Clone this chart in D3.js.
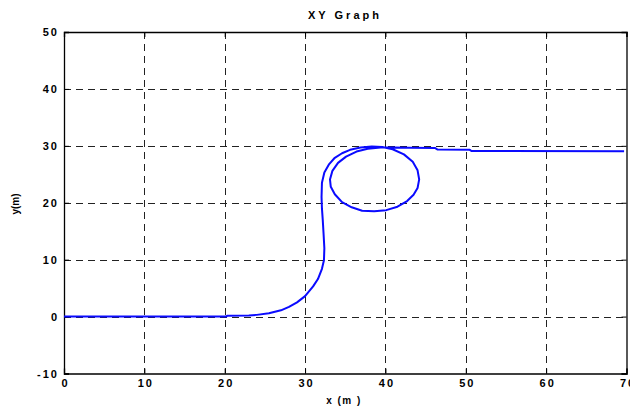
<!DOCTYPE html>
<html>
<head>
<meta charset="utf-8">
<script src="https://cdn.jsdelivr.net/npm/d3@7"></script>
<style>
  html, body { margin: 0; padding: 0; background: #fff; }
  svg { display: block; }
  text { font-family: "Liberation Sans", Arial, sans-serif; fill: #000; }
</style>
</head>
<body>
<script>
// Trajectory samples (metres)
const pathX = [0, 10, 20.2, 20.3, 23, 24, 25.5, 27, 28, 29, 30, 31, 31.6, 32.1, 32.35, 32.4, 32.3, 32.2, 32.1, 32.05,
  32.1, 32.4, 33.0, 33.7, 34.6, 35.6, 36.9, 38.3, 39.6, 40.9, 42.3, 43.4, 44.0, 44.2, 44.0, 43.5, 42.7, 41.5, 40.1,
  38.6, 37.1, 35.8, 34.6, 33.7, 33.2, 33.1, 33.4, 34.1, 35.1, 36.4, 37.8, 39.4, 41, 43, 46.2, 46.5, 50.5, 50.7, 69.7];
const pathY = [0, 0, 0, 0.15, 0.2, 0.3, 0.6, 1.1, 1.7, 2.5, 3.6, 5.3, 6.6, 8.4, 9.9, 12, 14.6, 17, 19, 21,
  23.5, 25.3, 26.8, 27.9, 28.7, 29.3, 29.7, 29.9, 29.8, 29.4, 28.5, 27.2, 25.7, 24.1, 22.6, 21.4, 20.3, 19.3, 18.7,
  18.5, 18.6, 19.2, 20.1, 21.5, 22.8, 24.1, 25.6, 27.0, 28.1, 29.0, 29.5, 29.7, 29.7, 29.65, 29.6, 29.35, 29.3, 29.1, 29.05];

const xTicks = [0, 10, 20, 30, 40, 50, 60, 70];
const yTicks = [-10, 0, 10, 20, 30, 40, 50];
const titleText = "XY Graph";
const xLabel = "x (m )";
const yLabel = "y(m)";

const W = 630, H = 410;
const m = { left: 64, right: 3.5, top: 32, bottom: 36.5 };

const svg = d3.select("body").append("svg").attr("width", W).attr("height", H);

const x = d3.scaleLinear().domain([0, 70]).range([m.left, W - m.right]);
const y = d3.scaleLinear().domain([-10, 50]).range([H - m.bottom, m.top]);

// dashed grid
const grid = svg.append("g").attr("stroke", "#222").attr("stroke-width", 1).attr("stroke-dasharray", "7,5");
grid.selectAll("line.vx").data(xTicks.slice(1, -1)).join("line")
  .attr("x1", d => Math.round(x(d)) + 0.5).attr("x2", d => Math.round(x(d)) + 0.5)
  .attr("y1", y(50)).attr("y2", y(-10));
grid.selectAll("line.hy").data(yTicks.slice(1, -1)).join("line")
  .attr("y1", d => Math.round(y(d)) + 0.5).attr("y2", d => Math.round(y(d)) + 0.5)
  .attr("x1", x(0)).attr("x2", x(70));

// axes with inward ticks on all four sides
const fmt = d => String(d);
const axB = svg.append("g").attr("transform", `translate(0,${y(-10)})`)
  .call(d3.axisBottom(x).tickValues(xTicks).tickSize(-5).tickPadding(6).tickFormat(fmt));
const axT = svg.append("g").attr("transform", `translate(0,${y(50)})`)
  .call(d3.axisTop(x).tickValues(xTicks).tickSize(-5).tickFormat(""));
const axL = svg.append("g").attr("transform", `translate(${x(0)},0)`)
  .call(d3.axisLeft(y).tickValues(yTicks).tickSize(-5).tickPadding(7).tickFormat(fmt));
const axR = svg.append("g").attr("transform", `translate(${x(70)},0)`)
  .call(d3.axisRight(y).tickValues(yTicks).tickSize(-5).tickFormat(""));

[axB, axT, axL, axR].forEach(a => {
  a.select(".domain").attr("stroke", "#000").attr("stroke-width", 1.3);
  a.selectAll(".tick line").attr("stroke", "#000");
  a.selectAll("text").attr("font-family", "'Liberation Sans', Arial, sans-serif")
    .attr("font-size", 11).attr("font-weight", "bold").attr("fill", "#000")
    .style("letter-spacing", "2px");
});
axL.selectAll("text").attr("dx", "2px");
axB.selectAll("text").attr("dx", "1px");

// trajectory
const pts = pathX.map((v, i) => [v, pathY[i]]);
svg.append("path").datum(pts)
  .attr("fill", "none").attr("stroke", "#0a0aff").attr("stroke-width", 2)
  .attr("stroke-linejoin", "round")
  .attr("d", d3.line().x(d => x(d[0])).y(d => y(d[1])));

// titles
svg.append("text").attr("x", 345).attr("y", 19).attr("text-anchor", "middle")
  .attr("font-size", 11).attr("font-weight", "bold").style("letter-spacing", "3px")
  .text(titleText);
svg.append("text").attr("x", 344).attr("y", 404).attr("text-anchor", "middle")
  .attr("font-size", 10).attr("font-weight", "bold").style("letter-spacing", "1.5px")
  .text(xLabel);
svg.append("text").attr("transform", "translate(19,204) rotate(-90)").attr("text-anchor", "middle")
  .attr("font-size", 10).attr("font-weight", "bold")
  .text(yLabel);
</script>
</body>
</html>
